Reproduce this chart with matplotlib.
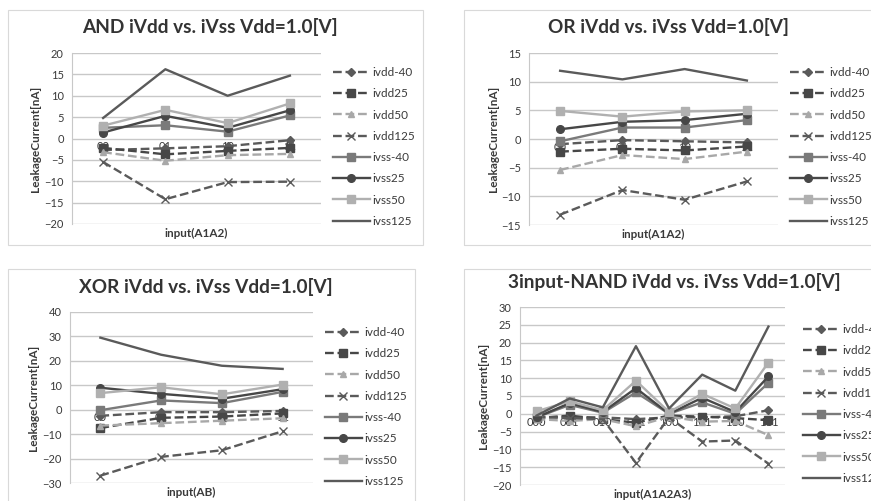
import matplotlib
matplotlib.use("Agg")
import matplotlib.pyplot as plt
from matplotlib.patches import Rectangle

plt.rcParams['font.family'] = ['Lato', 'DejaVu Sans']

labels = ['ivdd-40', 'ivdd25', 'ivdd50', 'ivdd125',
          'ivss-40', 'ivss25', 'ivss50', 'ivss125']

# AND
and_cats = ['00', '01', '10', '11']
and_ivdd_m40 = [-2.7, -2.3, -1.8, -0.4]
and_ivdd25 = [-2.2, -3.7, -2.9, -2.2]
and_ivdd50 = [-3.2, -5.2, -3.9, -3.6]
and_ivdd125 = [-5.5, -14.2, -10.2, -10.1]
and_ivss_m40 = [2.5, 3.1, 1.6, 5.4]
and_ivss25 = [1.4, 5.3, 2.5, 6.6]
and_ivss50 = [3.0, 6.7, 3.6, 8.2]
and_ivss125 = [4.8, 16.2, 10.0, 14.7]

# OR
or_cats = ['00', '01', '10', '11']
or_ivdd_m40 = [-0.9, -0.2, -0.4, -0.6]
or_ivdd25 = [-2.2, -1.7, -2.0, -1.3]
or_ivdd50 = [-5.4, -2.8, -3.5, -2.2]
or_ivdd125 = [-13.2, -8.9, -10.6, -7.4]
or_ivss_m40 = [-0.4, 2.0, 2.0, 3.3]
or_ivss25 = [1.7, 3.0, 3.3, 4.4]
or_ivss50 = [4.9, 3.9, 4.8, 5.0]
or_ivss125 = [11.9, 10.4, 12.2, 10.2]

# XOR
xor_cats = ['00', '01', '10', '11']
xor_ivdd_m40 = [-2.5, -1.0, -1.0, -0.5]
xor_ivdd25 = [-7.5, -3.3, -2.8, -1.5]
xor_ivdd50 = [-6.5, -5.5, -4.5, -3.5]
xor_ivdd125 = [-27.0, -19.3, -16.6, -8.8]
xor_ivss_m40 = [-0.2, 3.8, 2.7, 7.3]
xor_ivss25 = [9.0, 6.5, 4.5, 8.4]
xor_ivss50 = [6.8, 9.2, 6.3, 10.3]
xor_ivss125 = [29.5, 22.5, 18.0, 16.7]

# 3input-NAND
nand_cats = ['000', '001', '010', '011', '100', '101', '110', '111']
nand_ivdd_m40 = [-1.0, -1.0, -1.0, -1.5, -1.0, -1.0, -0.7, 1.0]
nand_ivdd25 = [-1.2, -0.5, -1.5, -2.5, -0.5, -0.8, -1.2, -1.8]
nand_ivdd50 = [-1.5, -2.0, -1.5, -3.5, -0.8, -2.2, -2.0, -6.0]
nand_ivdd125 = [-0.8, -1.2, -1.5, -13.8, -1.0, -7.8, -7.5, -14.0]
nand_ivss_m40 = [-1.0, 2.5, 0.3, 6.0, 0.0, 3.2, 0.0, 8.7]
nand_ivss25 = [-1.0, 3.0, 0.5, 7.2, 0.0, 4.5, 0.5, 10.5]
nand_ivss50 = [0.7, 3.5, 1.0, 9.3, 0.5, 5.6, 1.5, 14.4]
nand_ivss125 = [-0.5, 4.3, 1.8, 19.0, 1.5, 11.0, 6.5, 24.5]

# line styles (color, linestyle, marker, markersize)
styles = [
    ('#5a5a5a', '--', 'D', 4),
    ('#474747', '--', 's', 5.5),
    ('#a8a8a8', '--', '^', 5),
    ('#5a5a5a', '--', 'x', 5.5),
    ('#7a7a7a', '-', 's', 5.5),
    ('#474747', '-', 'o', 5.5),
    ('#b0b0b0', '-', 's', 5.5),
    ('#5a5a5a', '-', None, 0),
]

W, H = 871, 501
fig = plt.figure(figsize=(W / 100, H / 100), dpi=100)


def px_rect(x0, y0, x1, y1):
    return [x0 / W, 1 - y1 / H, (x1 - x0) / W, (y1 - y0) / H]


def panel(box, axrect, title, title_xy, cats, series, yticks, xlabel, leg_xy):
    # chart area border
    bx = px_rect(*box)
    fig.patches.append(Rectangle((bx[0], bx[1]), bx[2], bx[3], transform=fig.transFigure,
                                 fill=False, edgecolor='#d9d9d9', linewidth=0.8))
    ax = fig.add_axes(px_rect(*axrect))
    x = range(len(cats))
    for lab, ys, (c, ls, m, ms) in zip(labels, series, styles):
        ax.plot(x, ys, color=c, linestyle=ls, marker=m, markersize=ms,
                linewidth=1.7, label=lab, markeredgecolor=c)
    ax.set_xlim(-0.5, len(cats) - 0.5)
    ax.set_ylim(yticks[0], yticks[-1])
    ax.set_yticks(yticks)
    ax.set_xticks(list(x))
    ax.set_xticklabels(cats)
    ax.grid(axis='y', color='#c8c8c8', linewidth=1)
    ax.set_axisbelow(True)
    for s in ['top', 'right']:
        ax.spines[s].set_visible(False)
    ax.spines['left'].set_color('#c8c8c8')
    ax.spines['bottom'].set_position(('data', 0))
    ax.spines['bottom'].set_visible(False)
    ax.tick_params(axis='both', length=0, labelsize=8, colors='#3a3a3a', pad=2)
    ax.tick_params(axis='y', pad=6)
    ax.text(0.5, -0.055, xlabel, transform=ax.transAxes, ha='center', va='center',
            fontsize=8.5, fontweight='bold', color='#3a3a3a')
    # y label placed left of the plot area
    ax.text(-36 / (axrect[2] - axrect[0]), 0.5, 'LeakageCurrent[nA]', transform=ax.transAxes,
            ha='center', va='center', rotation=90, fontsize=8.5, fontweight='bold',
            color='#3a3a3a')
    fig.text(title_xy[0] / W, 1 - title_xy[1] / H, title, ha='center', va='center',
             fontsize=13.7, fontweight='bold', color='#333333')
    ax.legend(loc='upper left', bbox_to_anchor=(leg_xy[0] / W, 1 - leg_xy[1] / H),
              bbox_transform=fig.transFigure, frameon=False, fontsize=8.5,
              handlelength=3.1, handletextpad=0.2, labelspacing=0.87,
              borderpad=0, borderaxespad=0, labelcolor='#3a3a3a')
    return ax


panel((8, 10, 423, 245), (72, 53, 321, 224), 'AND iVdd vs. iVss Vdd=1.0[V]', (210, 27),
      and_cats, [and_ivdd_m40, and_ivdd25, and_ivdd50, and_ivdd125,
                 and_ivss_m40, and_ivss25, and_ivss50, and_ivss125],
      list(range(-20, 21, 5)), 'input(A1A2)', (333, 67))

panel((464, 10, 880, 245), (529, 53, 778, 225), 'OR iVdd vs. iVss Vdd=1.0[V]', (668, 27),
      or_cats, [or_ivdd_m40, or_ivdd25, or_ivdd50, or_ivdd125,
                or_ivss_m40, or_ivss25, or_ivss50, or_ivss125],
      list(range(-15, 16, 5)), 'input(A1A2)', (790, 67))

panel((8, 269, 415, 510), (70, 312, 313, 483), 'XOR iVdd vs. iVss Vdd=1.0[V]', (206, 287),
      xor_cats, [xor_ivdd_m40, xor_ivdd25, xor_ivdd50, xor_ivdd125,
                 xor_ivss_m40, xor_ivss25, xor_ivss50, xor_ivss125],
      list(range(-30, 41, 10)), 'input(AB)', (325, 327))

panel((464, 269, 880, 510), (520, 307, 785, 485), '3input-NAND iVdd vs. iVss Vdd=1.0[V]',
      (674, 282),
      nand_cats, [nand_ivdd_m40, nand_ivdd25, nand_ivdd50, nand_ivdd125,
                  nand_ivss_m40, nand_ivss25, nand_ivss50, nand_ivss125],
      list(range(-20, 31, 5)), 'input(A1A2A3)', (803, 324))

fig.savefig('out.png', dpi=100)
